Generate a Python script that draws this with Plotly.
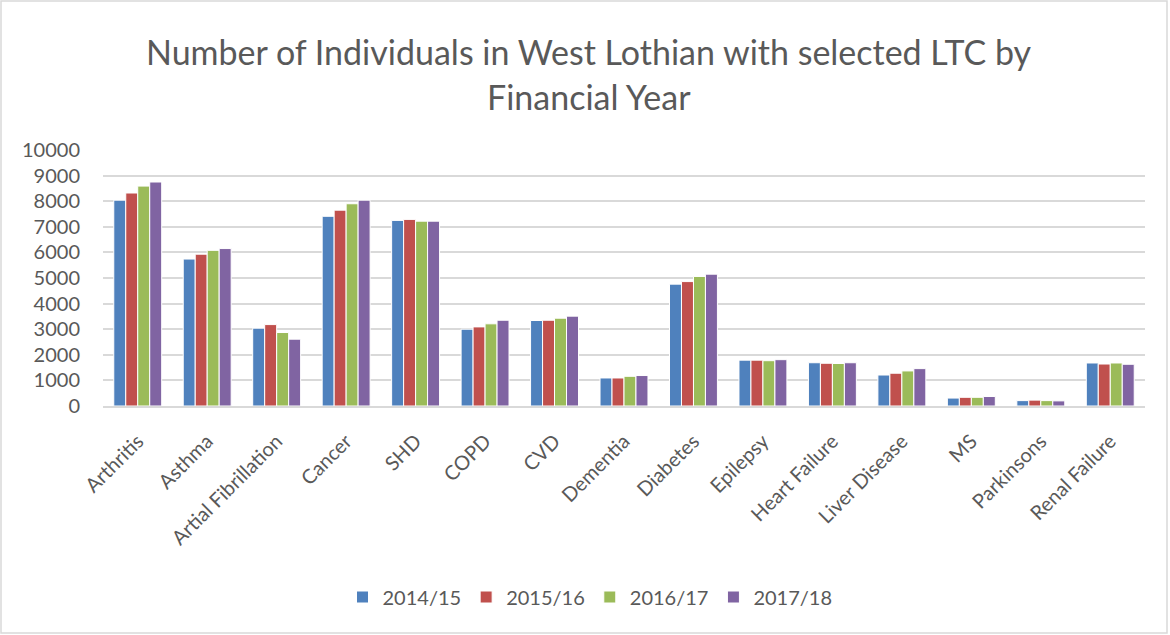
import plotly.graph_objects as go

categories = ["Arthritis", "Asthma", "Artial Fibrillation", "Cancer", "SHD", "COPD", "CVD",
              "Dementia", "Diabetes", "Epilepsy", "Heart Failure", "Liver Disease", "MS",
              "Parkinsons", "Renal Failure"]
y2014 = [8040, 5740, 3040, 7410, 7250, 3000, 3340, 1095, 4760, 1790, 1690, 1210, 310, 210, 1680]
y2015 = [8320, 5930, 3180, 7650, 7290, 3090, 3350, 1095, 4860, 1790, 1670, 1280, 340, 230, 1640]
y2016 = [8590, 6080, 2870, 7900, 7220, 3210, 3430, 1160, 5060, 1770, 1660, 1370, 340, 210, 1680]
y2017 = [8750, 6150, 2610, 8040, 7220, 3350, 3510, 1190, 5150, 1810, 1690, 1460, 370, 200, 1630]
series_names = ["2014/15", "2015/16", "2016/17", "2017/18"]
colors = ["#4F81BD", "#C0504D", "#9BBB59", "#8064A2"]

FONT = "Lato, 'Open Sans', sans-serif"
W, H = 1170, 635
ml, mr, mt, mb = 103, 25, 150, 229
pw, ph = W - ml - mr, H - mt - mb

fig = go.Figure()
for name, vals, c in zip(series_names, [y2014, y2015, y2016, y2017], colors):
    fig.add_trace(go.Bar(x=categories, y=vals, name=name, marker_color=c,
                         marker_line=dict(color="white", width=1)))

def px_x(p):
    return (p - ml) / pw

def px_y(p):
    return (H - mb - p) / ph

fig.update_layout(
    width=W, height=H,
    margin=dict(l=ml, r=mr, t=mt, b=mb),
    paper_bgcolor="white", plot_bgcolor="white",
    barmode="group", bargap=0.31, bargroupgap=0.0,
    font=dict(family=FONT, color="#595959", size=20),
    showlegend=True,
    legend=dict(orientation="h", x=px_x(590), xanchor="center", y=px_y(597), yanchor="middle",
                font=dict(size=20, color="#595959"), traceorder="normal",
                itemwidth=30, tracegroupgap=0),
    xaxis=dict(tickangle=-45, showgrid=False, showline=True, linecolor="#D9D9D9", linewidth=1.5,
               ticks="", tickfont=dict(size=20, color="#595959"), ticklabelstandoff=14),
    yaxis=dict(range=[0, 10000], tickmode="linear", dtick=1000, tickformat="d", showgrid=True,
               gridcolor="#D9D9D9", gridwidth=1.5, zeroline=False, ticks="",
               tickfont=dict(size=20, color="#595959"), ticklabelstandoff=22),
)

fig.add_annotation(text="Number of Individuals in West Lothian with selected LTC by",
                   xref="paper", yref="paper", x=px_x(589), y=px_y(51), xanchor="center",
                   yanchor="middle", showarrow=False, font=dict(size=34, color="#595959", family=FONT))
fig.add_annotation(text="Financial Year",
                   xref="paper", yref="paper", x=px_x(589), y=px_y(96), xanchor="center",
                   yanchor="middle", showarrow=False, font=dict(size=34, color="#595959", family=FONT))

fig.add_shape(type="rect", xref="paper", yref="paper",
              x0=px_x(1), x1=px_x(W - 3), y0=px_y(H - 2), y1=px_y(1),
              line=dict(color="#D9D9D9", width=1.5), layer="below")

fig.write_html("out.html", config={"displayModeBar": False},
               post_script="document.body.style.margin='0';document.body.style.overflow='hidden';")
